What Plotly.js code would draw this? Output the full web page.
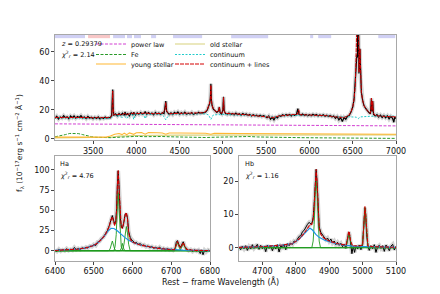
<!DOCTYPE html>
<html><head><meta charset="utf-8">
<script src="https://cdn.plot.ly/plotly-3.0.1.min.js"></script>
<style>html,body{margin:0;padding:0;background:#fff}#c{width:440px;height:294px}</style>
</head><body><div id="c"></div>
<script>
// ---------- top panel: full spectrum ----------
const topWave = [3060,3080,3100,3120,3140,3160,3180,3200,3220,3240,3260,3280,3300,3320,3340,3360,3380,3400,3420,3440,3460,3480,3500,3520,3540,3560,3580,3600,3620,3640,3660,3680,3700,3715,3722,3727,3732,3740,3760,3780,3800,3820,3840,3860,3869,3880,3900,3920,3940,3960,3970,3990,4010,4030,4050,4070,4090,4102,4120,4140,4160,4180,4200,4220,4240,4260,4280,4300,4320,4330,4340,4350,4363,4380,4400,4420,4440,4460,4480,4500,4520,4540,4560,4580,4600,4620,4640,4660,4680,4700,4720,4740,4760,4780,4800,4820,4835,4848,4855,4861,4867,4875,4890,4910,4930,4950,4959,4968,4985,5000,5007,5014,5030,5050,5070,5090,5110,5130,5150,5170,5190,5210,5230,5250,5270,5290,5310,5330,5350,5370,5390,5410,5430,5450,5470,5490,5510,5530,5550,5570,5590,5610,5630,5650,5670,5690,5710,5730,5750,5770,5790,5810,5830,5850,5866,5880,5900,5920,5940,5960,5980,6000,6020,6040,6060,6080,6100,6120,6140,6160,6180,6200,6220,6240,6260,6280,6300,6320,6340,6360,6380,6400,6420,6440,6460,6480,6500,6515,6530,6540,6548,6555,6560,6563,6567,6572,6578,6583,6590,6600,6615,6630,6650,6670,6690,6705,6716,6723,6731,6740,6760,6780,6800,6820,6840,6860,6880,6900,6920,6940,6960,6975,6985,7000];
const topFlux = [14.2,15.6,13.8,15.1,14.4,16.0,14.6,15.3,13.9,15.8,14.7,15.9,14.3,15.4,14.8,16.1,14.5,15.2,14.0,15.6,14.4,15.0,13.9,14.9,14.1,15.2,13.8,14.6,14.0,15.1,14.3,14.8,14.6,16.5,28.0,34.0,22.0,16.0,17.2,15.8,17.6,16.4,17.8,16.2,18.6,16.6,17.4,15.9,18.0,16.8,18.4,16.5,17.9,16.9,18.2,17.0,17.6,18.8,16.8,18.1,17.2,17.8,16.6,18.3,17.1,17.9,16.9,18.0,17.4,21.0,26.0,19.0,18.2,16.8,17.9,16.7,18.3,17.4,18.6,17.0,18.1,17.2,18.5,16.9,17.8,17.1,18.2,16.8,17.7,17.3,18.4,17.6,18.1,17.9,18.6,20.0,22.5,24.5,28.0,38.0,27.0,23.0,20.5,19.0,18.2,19.5,22.0,18.0,17.2,20.0,29.0,19.5,17.4,16.8,17.9,16.9,17.6,16.5,17.8,16.7,17.3,16.4,17.5,16.6,17.2,16.1,16.9,15.8,16.7,15.9,16.4,15.6,16.3,15.4,16.1,15.5,14.6,15.8,13.6,14.9,13.2,15.1,14.4,16.0,15.6,16.7,15.9,16.8,16.1,16.9,15.8,16.6,16.2,17.0,20.8,16.8,16.3,17.1,16.2,16.9,15.9,16.7,16.0,17.0,16.1,16.8,15.8,16.6,15.9,16.7,15.7,16.4,15.5,16.2,15.1,15.8,14.2,15.4,13.1,14.7,12.0,14.8,13.6,15.6,16.2,18.5,22.0,27.0,38.0,50.0,58.0,56.0,90.0,115.0,80.0,45.0,50.0,62.0,42.0,32.0,26.5,23.0,21.0,19.2,18.0,17.4,28.0,19.0,26.0,17.0,15.9,16.8,15.1,16.4,14.8,16.1,14.6,15.9,13.8,15.5,14.2,11.5,15.0,14.0];

const modelWave = [3060,3200,3300,3400,3500,3600,3700,3718,3722,3727,3732,3740,3800,3835,3869,3889,3930,3970,4000,4102,4200,4300,4330,4340,4350,4380,4500,4600,4700,4780,4820,4840,4852,4857,4861,4865,4872,4890,4920,4945,4953,4959,4965,4985,5000,5007,5014,5030,5200,5400,5500,5580,5650,5800,5860,5876,5890,6000,6200,6300,6400,6450,6480,6500,6515,6530,6540,6548,6555,6559,6563,6567,6572,6577,6583,6590,6600,6615,6630,6660,6700,6710,6716,6723,6731,6738,6760,6850,7000];
const modelFlux = [14.8,15.0,15.0,14.8,14.5,14.5,14.7,16.0,26.0,33.0,22.0,16.5,17.0,16.6,17.8,16.8,17.4,17.8,17.4,17.8,17.4,17.6,20.0,25.0,19.0,17.4,17.6,17.6,17.7,18.0,20.0,23.0,26.0,30.0,37.0,29.0,24.0,20.5,18.8,18.6,20.0,22.0,19.0,17.6,19.5,28.5,19.5,17.6,17.0,16.1,15.5,14.8,15.8,16.4,17.0,20.0,16.6,16.4,16.0,15.2,14.8,16.0,18.5,22.0,27.0,37.0,48.0,58.0,58.0,85.0,115.0,82.0,46.0,50.0,62.0,42.0,32.0,26.5,23.0,20.0,17.5,20.0,28.0,19.5,26.0,18.0,16.0,15.6,15.2];

const contWave = [3060,3300,3500,3650,3700,3760,3798,3810,3835,3850,3889,3920,3955,3970,3990,4080,4102,4125,4300,4340,4380,4500,4800,4835,4861,4890,5000,5300,5550,5600,5700,5900,6200,6350,6450,6540,6563,6590,6700,7000];
const contFlux = [14.6,14.6,14.2,14.0,14.3,16.6,15.2,16.6,14.6,16.8,14.0,17.0,16.6,13.5,17.0,17.2,14.0,17.2,17.1,13.2,17.0,17.2,17.3,16.5,13.5,16.6,16.8,16.3,15.0,15.0,16.0,16.2,15.9,15.2,15.3,15.0,14.0,15.2,15.6,15.8];

const plWave = [3060,4000,5000,6000,7000];
const plFlux = [10.4,10.0,9.6,9.3,9.0];

const feWave = [3060,3120,3180,3230,3280,3330,3380,3430,3480,3530,3600,3700,3800,3900,4000,4100,4200,4300,4400,4500,4600,4700,4800,4900,5000,5100,5200,5300,5400,5500,5700,5900,6100,6300,6500,6700,7000];
const feFlux = [1.5,2.0,3.0,3.8,4.0,3.7,3.0,2.2,1.6,1.2,1.0,0.9,1.2,1.6,1.8,1.6,1.9,1.7,1.5,1.3,1.6,1.4,1.0,1.2,1.3,1.6,1.9,1.7,1.4,1.2,1.0,0.9,0.8,0.7,0.6,0.5,0.4];

const youngWave = [3060,3300,3650,3700,3750,3800,3835,3860,3889,3920,3970,4000,4060,4102,4140,4250,4300,4340,4380,4500,4800,4861,4900,5200,5500,6000,6500,6563,6600,7000];
const youngFlux = [1.3,1.3,1.3,2.0,3.2,3.8,3.0,4.0,3.0,4.2,3.2,4.3,4.4,3.3,4.4,4.3,4.1,3.3,4.1,4.1,3.9,3.3,3.9,3.8,3.7,3.6,3.4,3.0,3.4,3.3];

const oldWave = [3060,3500,3700,3800,4000,4500,5000,6000,7000];
const oldFlux = [0.8,1.0,1.2,2.0,2.4,2.6,2.7,2.8,2.8];

const maskLo = [3060,3731,3892,3973,4170,4424,5095,6008,6101,6795];
const maskHi = [3407,3869,3950,4054,4228,4760,5523,6043,6251,6991];
const badLo = [3442];
const badHi = [3696];

// ---------- H-alpha panel ----------
const haWave = [6400,6405,6410,6415,6420,6425,6430,6435,6440,6445,6450,6455,6460,6465,6470,6475,6480,6485,6490,6495,6500,6505,6510,6515,6520,6525,6530,6535,6540,6544,6548,6551,6554,6557,6559,6561,6563,6565,6567,6569,6571,6574,6577,6579,6581,6584,6587,6590,6594,6598,6602,6606,6610,6615,6620,6625,6630,6635,6640,6645,6650,6655,6660,6665,6670,6675,6680,6685,6690,6695,6700,6705,6710,6713,6716,6720,6724,6727,6731,6735,6740,6745,6750,6755,6760,6765,6770,6775,6778,6782,6786,6790,6795,6800];
const haFlux = [0.5,-1.0,1.8,-0.5,1.2,0.0,2.5,0.3,1.6,0.6,4.0,1.2,2.8,1.5,3.6,2.4,4.5,3.2,5.8,5.0,7.6,6.4,10.8,11.5,15.2,16.8,21.0,24.5,31.0,38.5,43.5,38.0,33.0,37.0,52.0,82.0,99.0,82.0,56.0,38.0,30.5,28.0,33.5,39.0,45.0,46.5,41.0,24.0,16.5,13.0,11.8,9.4,10.2,8.0,8.6,6.4,7.2,4.8,5.9,3.9,5.1,3.0,4.2,2.4,4.5,1.8,3.0,1.2,2.5,0.8,2.0,0.5,3.0,10.5,12.5,7.0,4.0,7.5,11.0,5.0,2.5,0.2,1.5,-1.0,1.0,-0.5,0.8,-3.5,1.0,-5.0,0.5,-1.5,0.8,-0.5];
const haModelWave = [6400,6420,6440,6460,6480,6500,6510,6520,6530,6536,6540,6544,6548,6551,6554,6557,6559,6561,6563,6565,6567,6569,6571,6574,6577,6579,6581,6584,6587,6590,6594,6600,6620,6640,6660,6680,6700,6708,6712,6716,6720,6724,6727,6731,6735,6740,6760,6800];
const haModel = [0.3,0.6,1.0,2.0,3.5,6.5,9.5,14.0,20.0,25.0,30.0,38.0,42.0,36.0,31.0,36.0,50.0,80.0,100.0,80.0,55.0,38.0,29.0,28.0,33.0,38.0,44.0,47.0,40.0,22.0,14.0,10.5,7.0,4.8,3.3,2.2,1.5,1.2,6.0,11.5,6.0,3.5,6.0,10.0,5.5,1.5,0.4,0.2];
const haBroadWave = [6400,6420,6440,6460,6480,6500,6510,6520,6530,6538,6545,6552,6560,6570,6580,6590,6600,6620,6640,6660,6680,6700,6730,6760,6800];
const haBroad = [0.3,0.6,1.0,2.0,3.5,6.5,9.5,14.0,20.0,25.0,27.8,27.5,25.0,20.5,16.5,13.0,10.5,7.0,4.8,3.3,2.2,1.5,0.8,0.4,0.2];
const haN1Wave = [6400,6538,6542,6545,6548,6551,6554,6558,6800];
const haN1 = [0,0,2,7,12,7,2,0,0];
const haN2Wave = [6400,6552,6555,6558,6561,6563,6565,6568,6571,6575,6800];
const haN2 = [0,0,5,20,55,72,55,22,5,0,0];
const haN3Wave = [6400,6568,6571,6574,6577,6580,6800];
const haN3 = [0,0,3,9,3,0,0];
const haN4Wave = [6400,6574,6578,6581,6584,6587,6590,6594,6800];
const haN4 = [0,0,8,22,30,22,8,0,0];
const haN5Wave = [6400,6708,6712,6716,6720,6724,6800];
const haN5 = [0,0,5,10,5,0,0];
const haN6Wave = [6400,6723,6727,6731,6735,6739,6800];
const haN6 = [0,0,4.5,9,4.5,0,0];

// ---------- H-beta panel ----------
const hbWave = [4630,4635,4640,4645,4650,4655,4660,4665,4670,4675,4680,4685,4690,4695,4700,4705,4710,4715,4720,4725,4730,4735,4740,4745,4750,4755,4760,4765,4770,4775,4780,4785,4790,4795,4800,4805,4810,4815,4820,4825,4830,4835,4840,4845,4849,4852,4855,4858,4861,4864,4867,4870,4875,4880,4885,4890,4895,4900,4905,4910,4915,4920,4925,4930,4935,4940,4945,4950,4954,4957,4959,4961,4964,4968,4972,4976,4980,4985,4990,4995,5000,5002,5005,5007,5009,5012,5016,5020,5025,5030,5035,5040,5045,5050,5055,5060,5065,5070,5075,5080,5085,5090,5095,5100];
const hbFlux = [0.2,-0.6,0.5,-0.3,0.6,-0.8,0.3,-0.4,0.9,-0.2,0.4,1.0,-0.5,0.7,-0.3,0.5,-1.2,0.8,-0.2,0.6,-0.9,0.4,-0.4,0.9,-1.3,0.5,0.1,1.0,-0.6,1.2,0.6,1.4,1.0,2.0,1.8,2.8,3.4,3.6,4.8,5.2,6.3,7.0,7.6,7.1,7.6,9.0,13.0,21.0,23.5,19.0,10.0,6.2,4.6,3.8,3.4,2.4,2.9,1.9,2.6,1.4,2.0,0.9,1.6,0.7,1.3,0.3,1.1,-0.2,2.3,4.0,4.7,3.9,1.2,-1.8,0.4,-1.4,0.6,-0.4,0.8,-0.6,0.9,4.0,10.0,12.0,10.2,4.0,0.4,-0.8,0.6,-0.3,0.9,-1.4,0.3,0.7,-0.2,0.6,-1.1,0.8,0.1,-0.9,0.5,1.0,-0.7,0.4];
const hbModelWave = [4630,4700,4760,4790,4810,4825,4835,4842,4848,4852,4855,4858,4861,4864,4867,4870,4875,4885,4900,4925,4950,4954,4957,4959,4961,4964,4970,4990,5000,5002,5005,5007,5009,5012,5016,5030,5100];
const hbModel = [0.1,0.3,0.8,1.2,2.6,4.3,5.8,6.8,7.0,8.5,12.5,20.5,23.5,19.5,10.5,6.0,4.0,2.8,2.0,1.2,0.8,2.2,4.2,4.9,4.1,2.0,0.6,0.5,0.8,4.4,10.4,12.4,10.4,4.4,0.5,0.3,0.1];
const hbBroadWave = [4630,4700,4760,4790,4810,4825,4835,4842,4850,4860,4870,4885,4900,4925,4950,4980,5030,5100];
const hbBroad = [0.1,0.3,0.8,1.2,2.6,4.2,5.4,5.9,5.3,4.0,3.1,2.3,1.8,1.1,0.7,0.4,0.3,0.1];
const hbN1Wave = [4630,4848,4852,4855,4858,4861,4864,4867,4870,4874,5100];
const hbN1 = [0,0,2,7,16,20,16,7,2,0,0];
const hbN2Wave = [4630,4950,4954,4957,4959,4961,4964,4968,5100];
const hbN2 = [0,0,1.5,3.5,4.2,3.5,1.5,0,0];
const hbN3Wave = [4630,4998,5002,5005,5007,5009,5012,5016,5100];
const hbN3 = [0,0,4,10,12,10,4,0,0];

// ---------- ticks / labels ----------
const topXTicks = [3500,4000,4500,5000,5500,6000,6500,7000];
const topYTicks = [0,20,40,60];
const haXTicks = [6400,6500,6600,6700,6800];
const haYTicks = [0,25,50,75,100];
const hbXTicks = [4700,4800,4900,5000,5100];
const hbYTicks = [0,10,20];

const FONT = 'DejaVu Sans, sans-serif';
const RED = '#d40000', GREEN = '#1f9a1f', BLUE = '#1e96e6';
const traces = [];
function band(x, y, xa, ya) {
  traces.push({x, y, xaxis: xa, yaxis: ya, mode: 'lines', line: {color: 'rgba(0,0,0,0.17)', width: 4}, showlegend: false, hoverinfo: 'skip'});
}
function line(x, y, xa, ya, color, width, dash, extra) {
  traces.push(Object.assign({x, y, xaxis: xa, yaxis: ya, mode: 'lines', line: {color, width, dash: dash || 'solid'}, showlegend: false, hoverinfo: 'skip'}, extra || {}));
}

// top
band(topWave, topFlux, 'x', 'y');
line(topWave, topFlux, 'x', 'y', '#000', 1.2);
line(plWave, plFlux, 'x', 'y', '#d23fd2', 1, '3px,1.5px', {name: 'power law', showlegend: true, legend: 'legend'});
line(oldWave, oldFlux, 'x', 'y', '#d8d27c', 1.2, 'solid', {name: 'old stellar', showlegend: true, legend: 'legend', legendwidth: 90});
line(feWave, feFlux, 'x', 'y', '#2a9a2a', 1, '3px,1.5px', {name: 'Fe', showlegend: true, legend: 'legend2'});
line(contWave, contFlux, 'x', 'y', '#22cccc', 1, '2px,1.5px', {name: 'continuum', showlegend: true, legend: 'legend2', legendwidth: 90});
line(youngWave, youngFlux, 'x', 'y', '#ffb733', 1.1, 'solid', {name: 'young stellar', showlegend: true, legend: 'legend3'});
line(modelWave, modelFlux, 'x', 'y', RED, 1, '4px,1px', {name: 'continuum + lines', showlegend: true, legend: 'legend3', legendwidth: 90});

// Ha
band(haWave, haFlux, 'x2', 'y2');
line(haWave, haFlux, 'x2', 'y2', '#000', 1);
[[haN1Wave,haN1],[haN2Wave,haN2],[haN3Wave,haN3],[haN4Wave,haN4],[haN5Wave,haN5],[haN6Wave,haN6]].forEach(c => line(c[0], c[1], 'x2', 'y2', GREEN, 0.9));
line(haBroadWave, haBroad, 'x2', 'y2', BLUE, 1.2);
line(haModelWave, haModel, 'x2', 'y2', RED, 1.1, '4px,1px');

// Hb
band(hbWave, hbFlux, 'x3', 'y3');
line(hbWave, hbFlux, 'x3', 'y3', '#000', 1);
[[hbN1Wave,hbN1],[hbN2Wave,hbN2],[hbN3Wave,hbN3]].forEach(c => line(c[0], c[1], 'x3', 'y3', GREEN, 0.9));
line(hbBroadWave, hbBroad, 'x3', 'y3', BLUE, 1.2);
line(hbModelWave, hbModel, 'x3', 'y3', RED, 1.1, '4px,1px');

const shapes = [];
maskLo.forEach((lo, i) => shapes.push({type: 'rect', xref: 'x', yref: 'y domain', x0: lo, x1: maskHi[i], y0: 0.97, y1: 1, fillcolor: 'rgba(150,150,230,0.45)', line: {width: 0}, layer: 'below'}));
badLo.forEach((lo, i) => shapes.push({type: 'rect', xref: 'x', yref: 'y domain', x0: lo, x1: badHi[i], y0: 0.97, y1: 1, fillcolor: 'rgba(240,130,130,0.45)', line: {width: 0}, layer: 'below'}));

function ax(domain, range, ticks, anchor) {
  return {domain, range, anchor, tickvals: ticks, ticktext: ticks.map(String), ticks: 'outside', ticklen: 2.5, tickwidth: 1, tickcolor: '#444',
    showline: true, mirror: true, linecolor: '#a8a8a8', linewidth: 1.4, showgrid: false, zeroline: false,
    tickfont: {family: FONT, size: 8, color: '#111'}, fixedrange: true};
}
const legBase = {orientation: 'h', xanchor: 'left', yanchor: 'middle', bgcolor: 'rgba(0,0,0,0)', borderwidth: 0,
  font: {family: FONT, size: 6.5, color: '#111'}, entrywidthmode: 'pixels', entrywidth: 34, x: 91/440};
const small = {family: FONT, size: 6.5, color: '#111'};
const annotations = [
  {xref: 'paper', yref: 'paper', x: 59/440, y: 1 - 44/294, xanchor: 'left', yanchor: 'middle', showarrow: false, text: '<i>z</i> = 0.29379', font: small},
  {xref: 'paper', yref: 'paper', x: 59/440, y: 1 - 55/294, xanchor: 'left', yanchor: 'middle', showarrow: false, text: '<i>χ</i><sup>2</sup><sub><i>r</i></sub> = 2.14', font: small},
  {xref: 'paper', yref: 'paper', x: 58/440, y: 1 - 164/294, xanchor: 'left', yanchor: 'middle', showarrow: false, text: 'Ha', font: small},
  {xref: 'paper', yref: 'paper', x: 58/440, y: 1 - 175/294, xanchor: 'left', yanchor: 'middle', showarrow: false, text: '<i>χ</i><sup>2</sup><sub><i>r</i></sub> = 4.76', font: small},
  {xref: 'paper', yref: 'paper', x: 243/440, y: 1 - 164/294, xanchor: 'left', yanchor: 'middle', showarrow: false, text: 'Hb', font: small},
  {xref: 'paper', yref: 'paper', x: 243/440, y: 1 - 175/294, xanchor: 'left', yanchor: 'middle', showarrow: false, text: '<i>χ</i><sup>2</sup><sub><i>r</i></sub> = 1.16', font: small},
  {xref: 'paper', yref: 'paper', x: 19/440, y: 1 - 143/294, xanchor: 'center', yanchor: 'middle', textangle: -90, showarrow: false,
    text: 'f<sub>λ</sub> (10<sup>−17</sup>erg s<sup>−1</sup> cm<sup>−2</sup> Å<sup>−1</sup>)', font: {family: FONT, size: 7.5, color: '#111'}},
  {xref: 'paper', yref: 'paper', x: 220/440, y: 1 - 281/294, xanchor: 'center', yanchor: 'middle', showarrow: false,
    text: 'Rest − frame Wavelength (Å)', font: {family: FONT, size: 8, color: '#111'}}
];

const layout = {
  width: 440, height: 294, margin: {l: 0, r: 0, t: 0, b: 0}, paper_bgcolor: '#fff', plot_bgcolor: '#fff',
  xaxis: ax([55/440, 396/440], [3060, 7000], topXTicks, 'y'),
  yaxis: ax([1 - 140/294, 1 - 35/294], [-0.7, 71.5], topYTicks, 'x'),
  xaxis2: ax([55/440, 210/440], [6400, 6800], haXTicks, 'y2'),
  yaxis2: ax([1 - 260.7/294, 1 - 156/294], [-12.4, 117.3], haYTicks, 'x2'),
  xaxis3: ax([239/440, 396/440], [4630, 5100], hbXTicks, 'y3'),
  yaxis3: ax([1 - 260.7/294, 1 - 156/294], [-3.9, 27.5], hbYTicks, 'x3'),
  legend: Object.assign({}, legBase, {y: 1 - 44/294}),
  legend2: Object.assign({}, legBase, {y: 1 - 54.5/294}),
  legend3: Object.assign({}, legBase, {y: 1 - 64/294}),
  shapes, annotations
};
Plotly.newPlot('c', traces, layout, {staticPlot: true, displayModeBar: false});
</script></body></html>
